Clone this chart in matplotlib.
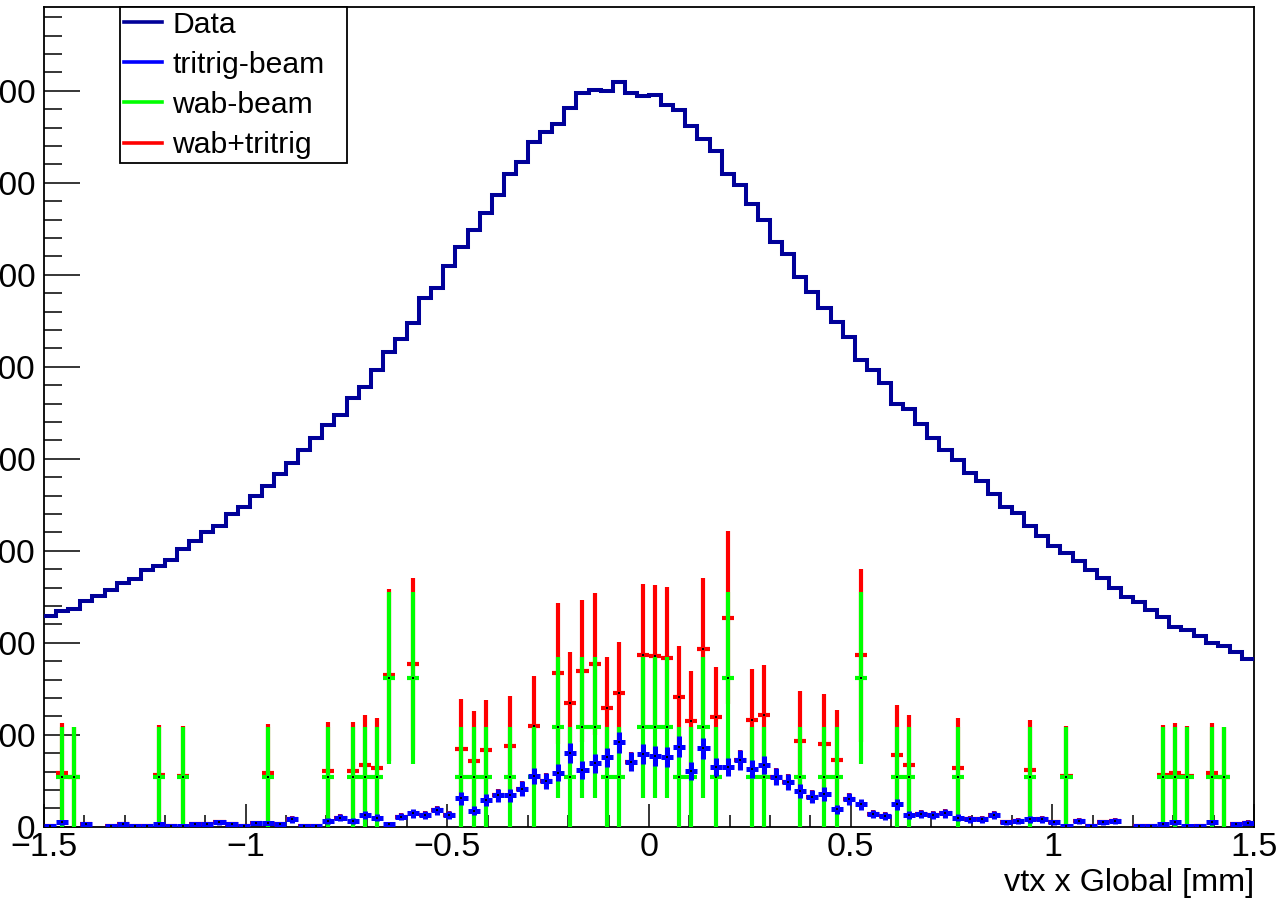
import numpy as np
import matplotlib
matplotlib.use("Agg")
import matplotlib.pyplot as plt
from matplotlib.lines import Line2D
from matplotlib.ticker import MultipleLocator

plt.rcParams['font.family'] = ['Liberation Sans', 'DejaVu Sans']

# binning: 100 bins from -1.5 to 1.5 mm
xmin, xmax, nbins = -1.5, 1.5, 100

# Data histogram (bin contents)
data = [229, 234, 237, 245, 251, 257, 265, 269, 279, 283,
        290, 302, 311, 320, 327, 340, 348, 359, 370, 383,
        395, 410, 422, 437, 447, 466, 478, 496, 516, 530,
        548, 575, 586, 609, 630, 649, 667, 687, 709, 723,
        744, 755, 764, 781, 798, 801, 800, 810, 798, 794,
        795, 784, 779, 762, 747, 734, 709, 698, 677, 659,
        636, 623, 597, 581, 564, 549, 532, 507, 496, 482,
        460, 454, 438, 423, 410, 399, 385, 376, 362, 348,
        341, 327, 316, 305, 298, 289, 279, 270, 260, 250,
        244, 236, 228, 217, 214, 207, 200, 196, 190, 182]

# tritrig-beam MC (bin contents and errors)
tritrig = [1.1, 4.7, 0, 2.6, 0, 1.1, 2.5, 1.1, 1.1, 2.5,
           1.1, 1.1, 2.5, 2.5, 4.7, 2.5, 1.1, 4.0, 4.0, 2.5,
           8.0, 1.1, 1.1, 6.2, 9.8, 6.2, 12.7, 9.8, 2.5, 10.9,
           14.5, 12.7, 17.7, 12.7, 30.8, 17.4, 29.0, 34.0, 34.0, 41.3,
           55.0, 50.0, 58.7, 80.4, 61.6, 68.8, 75.4, 91.7, 70.7, 78.6,
           77.2, 75.7, 87.0, 60.9, 85.1, 65.2, 65.2, 72.5, 62.3, 67.0,
           54.3, 48.9, 39.1, 32.6, 35.5, 18.8, 30.0, 24.3, 14.0, 12.0,
           24.3, 12.7, 13.8, 12.7, 14.5, 9.8, 8.0, 8.0, 12.7, 4.7,
           6.5, 8.0, 8.0, 4.7, 1.1, 6.5, 1.1, 4.7, 6.5, 0,
           1.1, 1.1, 2.5, 4.7, 1.1, 1.1, 4.7, 0, 2.5, 4.3]
tritrig_err = [1.3, 2.7, 0, 2.0, 0, 1.3, 1.9, 1.3, 1.3, 1.9,
               1.3, 1.3, 1.9, 1.9, 2.7, 1.9, 1.3, 2.4, 2.4, 1.9,
               3.5, 1.3, 1.3, 3.0, 3.8, 3.0, 4.4, 3.8, 1.9, 4.0,
               4.7, 4.4, 5.2, 4.4, 6.8, 5.1, 6.6, 7.1, 7.1, 7.9,
               9.1, 8.7, 9.4, 11.0, 9.6, 10.2, 10.6, 11.7, 10.3, 10.9,
               10.8, 10.7, 11.4, 9.6, 11.3, 9.9, 9.9, 10.4, 9.7, 10.0,
               9.0, 8.6, 7.7, 7.0, 7.3, 5.3, 6.7, 6.0, 4.6, 4.2,
               6.0, 4.4, 4.5, 4.4, 4.7, 3.8, 3.5, 3.5, 4.4, 2.7,
               3.1, 3.5, 3.5, 2.7, 1.3, 3.1, 1.3, 2.7, 3.1, 0,
               1.3, 1.3, 1.9, 2.7, 1.3, 1.3, 2.7, 0, 1.9, 2.5]

# wab-beam MC: only the filled bins (index, content, error)
wab_bins = [1, 2, 9, 11, 18, 23, 25, 26, 27, 28, 30, 34, 35, 36, 38, 40,
            42, 43, 44, 45, 46, 47, 49, 50, 51, 52, 53, 54, 55, 56, 58, 59,
            62, 64, 65, 67, 70, 71, 75, 81, 84, 92, 93, 94, 96, 97]
wab_vals = [54, 54, 54, 54, 54, 54, 54, 54, 54, 162, 162, 54, 54, 54, 54, 54,
            108, 54, 108, 108, 54, 54, 108, 108, 108, 54, 54, 108, 54, 162, 54, 54,
            54, 54, 54, 162, 54, 54, 54, 54, 54, 54, 54, 54, 54, 54]
wab_errs = [54, 54, 54, 54, 54, 54, 54, 54, 54, 93.5, 93.5, 54, 54, 54, 54, 54,
            76.4, 54, 76.4, 76.4, 54, 54, 76.4, 76.4, 76.4, 54, 54, 76.4, 54, 93.5, 54, 54,
            54, 54, 54, 93.5, 54, 54, 54, 54, 54, 54, 54, 54, 54, 54]

labels = ["Data", "tritrig-beam", "wab-beam", "wab+tritrig"]
colors = ["#000099", "#0000ff", "#00ff00", "#ff0000"]

edges = np.linspace(xmin, xmax, nbins + 1)
centers = 0.5 * (edges[:-1] + edges[1:])
half = 0.5 * (edges[1] - edges[0])

tri = np.array(tritrig, dtype=float)
tri_e = np.array(tritrig_err, dtype=float)
wab = np.zeros(nbins)
wab_e = np.zeros(nbins)
wab[wab_bins] = wab_vals
wab_e[wab_bins] = wab_errs

# sum histogram
summ = wab + tri
summ_e = np.sqrt(wab_e ** 2 + tri_e ** 2)

fig = plt.figure(figsize=(12.77, 9.01), dpi=100)
ax = fig.add_axes([44 / 1277, 1 - 826.7 / 901, 1210 / 1277, 819.7 / 901])

def draw_err(x, y, ye, col, lw, z):
    ax.errorbar(x, y, xerr=half, yerr=ye, fmt='s', color=col, ecolor=col,
                elinewidth=lw, capsize=0, ms=1.6, mfc='black', mec='black',
                mew=0, zorder=z)

m = summ > 0
draw_err(centers[m], summ[m], summ_e[m], colors[3], 3.0, 2)
m = wab > 0
draw_err(centers[m], wab[m], wab_e[m], colors[2], 3.0, 3)
m = tri > 0
draw_err(centers[m], tri[m], tri_e[m], colors[1], 3.6, 4)

ax.stairs(data, edges, baseline=None, color=colors[0], lw=2.9, zorder=5)

ax.set_xlim(xmin, xmax)
ax.set_ylim(0, 891)
ax.xaxis.set_minor_locator(MultipleLocator(0.1))
ax.yaxis.set_major_locator(MultipleLocator(100))
ax.yaxis.set_minor_locator(MultipleLocator(20))
ax.set_xticks([-1.5, -1, -0.5, 0, 0.5, 1, 1.5])
ax.set_xticklabels(["\u22121.5", "\u22121", "\u22120.5", "0", "0.5", "1", "1.5"])

ax.tick_params(axis='both', which='both', direction='in', width=1.1,
               top=False, right=False)
ax.tick_params(axis='y', which='major', length=26, labelsize=24, pad=6)
ax.tick_params(axis='y', which='minor', length=13)
ax.tick_params(axis='x', which='major', length=16.5, labelsize=24.5, pad=4)
ax.tick_params(axis='x', which='minor', length=8.5)
for s in ax.spines.values():
    s.set_linewidth(1.3)

ax.set_xlabel("vtx x Global [mm]", fontsize=23.3, loc='right')
ax.xaxis.set_label_coords(1.0, -0.050)

handles = [Line2D([], [], color=c, lw=2.6) for c in colors]
leg = ax.legend(handles, labels, loc='upper left',
                bbox_to_anchor=(120 / 1277, 1 - 161 / 901, 227 / 1277, 154 / 901),
                bbox_transform=fig.transFigure, borderaxespad=0, mode='expand',
                fontsize=21.7, handlelength=1.25, handletextpad=0.36,
                labelspacing=0.4, borderpad=0.13, fancybox=False,
                framealpha=1, edgecolor='black')
leg.get_frame().set_linewidth(1.3)

fig.savefig("out.png", dpi=100)
